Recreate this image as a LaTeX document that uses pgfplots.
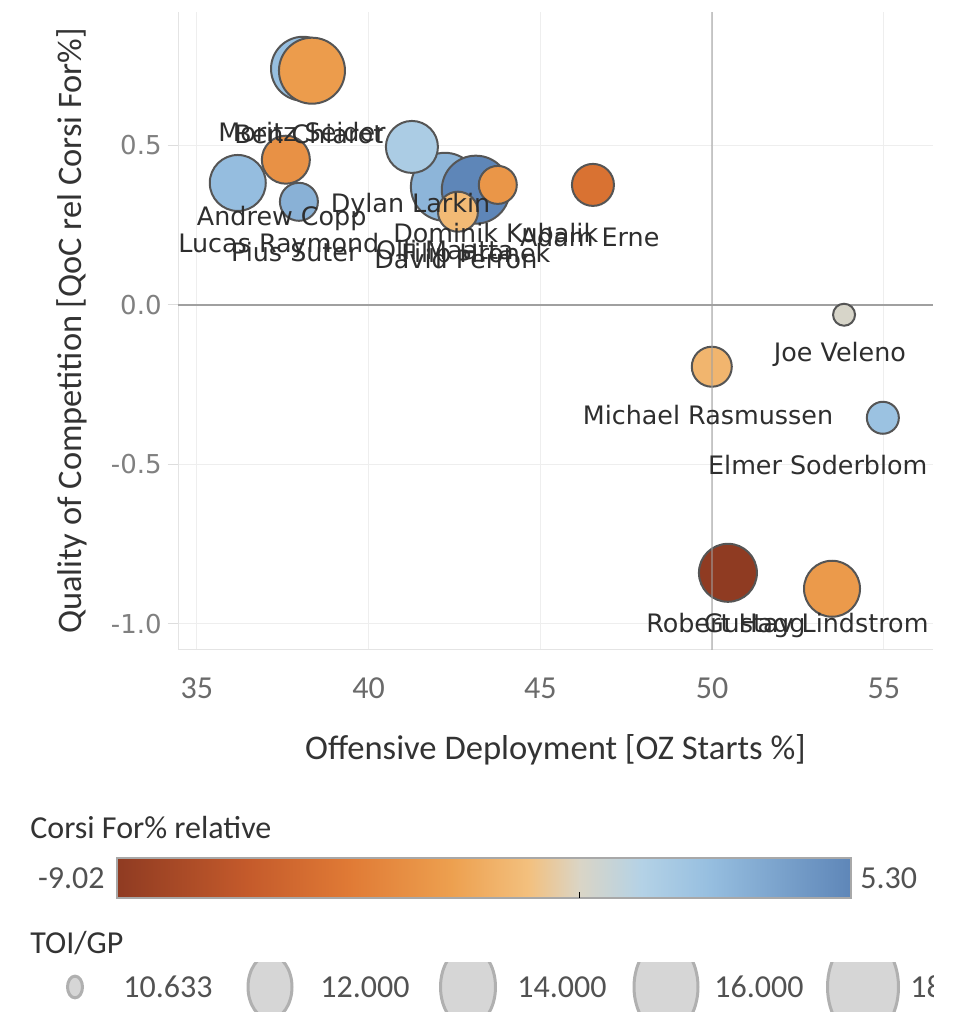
\documentclass[border=0pt]{standalone}
\usepackage{fontspec}
\setmainfont{Carlito}
\newfontfamily\labfont{DejaVu Sans}
\usepackage{pgfplots}
\usepackage{pgfplotstable}
\pgfplotsset{compat=1.18}

\definecolor{txtc}{HTML}{333333}
\definecolor{labc}{HTML}{2E2E2E}
\definecolor{ytickc}{HTML}{808080}
\definecolor{xtickc}{HTML}{6A6A6A}
\definecolor{gridc}{HTML}{EEEEEE}
\definecolor{edgec}{HTML}{E4E4E4}
\definecolor{tickc}{HTML}{DDDDDD}
\definecolor{refc}{HTML}{A0A0A0}
\definecolor{ptborder}{HTML}{555555}
\definecolor{lgfill}{HTML}{D6D6D6}
\definecolor{lgborder}{HTML}{B0B0B0}
\definecolor{cbborder}{HTML}{A8A8A8}
% colour-scale stops
\definecolor{cmA}{RGB}{143,59,34}
\definecolor{cmB}{RGB}{196,90,43}
\definecolor{cmC}{RGB}{224,122,53}
\definecolor{cmD}{RGB}{237,160,79}
\definecolor{cmE}{RGB}{243,192,126}
\definecolor{cmF}{RGB}{218,213,198}
\definecolor{cmG}{RGB}{180,210,230}
\definecolor{cmH}{RGB}{151,191,224}
\definecolor{cmI}{RGB}{94,134,184}

% positions = value + 9.02 (range -9.02 .. 5.30)
\pgfplotsset{colormap={orangeblue}{
  color(0)=(cmA) color(2.52)=(cmB) color(4.52)=(cmC) color(6.52)=(cmD)
  color(8.02)=(cmE) color(9.02)=(cmF) color(10.22)=(cmG) color(11.52)=(cmH)
  color(14.32)=(cmI)
}}

% x = OZ Starts %, y = QoC rel CF%, c = Corsi For% relative, r = circle radius (px)
\pgfplotstableread{
x      y       c      r
38.09  0.740   2.5    33
38.35  0.734  -2.7    34
36.19  0.382   2.6    29
37.59  0.455  -3.3    25
37.97  0.323   3.2    20
42.22  0.370   3.0    35
43.12  0.361   5.3    35
41.26  0.495   1.6    27
42.60  0.292  -1.3    21
43.76  0.376  -3.0    20
46.53  0.376  -5.0    22
53.84 -0.031   0.1    12
49.99 -0.194  -1.5    21
54.97 -0.354   2.3    17
50.46 -0.840  -9.02   30
53.49 -0.890  -2.8    29
}\players

% legend: x position (pt), horizontal radius (pt)
\pgfplotstableread{
x      y     r
37.5   18.5  4.5
135    18.5  11.75
234    18.5  14.5
333    18.5  16.75
431.5  18.5  18.5
}\sizetab

\tikzset{
  lab/.style={font=\labfont\fontsize{12.7}{14}\selectfont, text=labc, inner sep=0pt,
              text height=9.26pt, text depth=0pt, anchor=center},
  ttl/.style={font=\fontsize{16}{18}\selectfont, text=txtc, inner sep=0pt,
              text height=10.3pt, text depth=0pt},
  num/.style={font=\fontsize{16}{18}\selectfont, text=black!68, inner sep=0pt,
              text height=10.1pt, text depth=0pt},
}

\begin{document}
\begin{tikzpicture}
\useasboundingbox (0,0) rectangle (481.5pt,512pt);

\begin{axis}[
  at={(89pt,187pt)}, anchor=south west,
  scale only axis, width=377.5pt, height=319pt,
  xmin=34.45, xmax=56.43, ymin=-1.082, ymax=0.918,
  xtick={35,40,45,50,55}, xticklabels={35,40,45,50,55},
  ytick={-1,-0.5,0,0.5}, yticklabels={-1.0,-0.5,0.0,0.5},
  grid=major, grid style={draw=gridc, line width=0.5pt},
  axis x line*=bottom, axis y line*=left,
  axis line style={draw=edgec, line width=0.5pt, -},
  tick align=outside, major tick length=5pt,
  xtick style={draw=none}, ytick style={draw=tickc, line width=0.5pt},
  xticklabel style={font=\fontsize{16}{18}\selectfont, text=xtickc, anchor=center,
                    inner sep=0pt, text height=10.1pt, text depth=0pt, yshift=-14pt},
  yticklabel style={font=\labfont\fontsize{13}{15}\selectfont, text=ytickc, anchor=east,
                    inner sep=0pt, text height=9.5pt, text depth=0pt, xshift=-3pt},
  xlabel={Offensive Deployment [OZ Starts \%]},
  ylabel={Quality of Competition [QoC rel Corsi For\%]},
  xlabel style={font=\fontsize{17.3}{19}\selectfont, text=txtc, at={(axis description cs:0.5,-0.1567)}, anchor=center, inner sep=0pt},
  ylabel style={font=\fontsize{17.2}{19}\selectfont, text=txtc, at={(axis description cs:-0.1404,0.5)}, anchor=center, inner sep=0pt},
  colormap name=orangeblue, point meta min=-9.02, point meta max=5.30,
  clip mode=individual,
]
% zero line (under the points)
\addplot[refc, line width=0.8pt] coordinates {(34.45,0) (56.43,0)};

\addplot[scatter, only marks, mark=*,
  point meta=\thisrow{c},
  visualization depends on={0.5*\thisrow{r}-0.5 \as \rad},
  scatter/use mapped color={draw=ptborder, fill=mapped color},
  scatter/@pre marker code/.append style={/tikz/mark size=\rad},
  mark options={line width=1pt}]
  table[x=x, y=y] {\players};

% reference line at 50 %
\addplot[refc, line width=0.8pt, opacity=0.55] coordinates {(50,-1.082) (50,0.918)};

\node[lab] at (axis cs:38.06,0.542) {Moritz Seider};
\node[lab] at (axis cs:38.26,0.536) {Ben Chiarot};
\node[lab] at (axis cs:37.47,0.279) {Andrew Copp};
\node[lab, anchor=west] at (axis cs:34.45,0.194) {Lucas Raymond};
\node[lab] at (axis cs:37.85,0.166) {Pius Suter};
\node[lab] at (axis cs:41.22,0.320) {Dylan Larkin};
\node[lab] at (axis cs:43.70,0.226) {Dominik Kubalik};
\node[lab] at (axis cs:46.44,0.213) {Adam Erne};
\node[lab] at (axis cs:42.22,0.172) {Olli Maatta};
\node[lab] at (axis cs:43.12,0.163) {Filip Hronek};
\node[lab] at (axis cs:42.54,0.144) {David Perron};
\node[lab] at (axis cs:53.72,-0.150) {Joe Veleno};
\node[lab] at (axis cs:49.88,-0.345) {Michael Rasmussen};
\node[lab, anchor=east] at (axis cs:56.28,-0.502) {Elmer Soderblom};
\node[lab] at (axis cs:50.40,-0.997) {Robert Hagg};
\node[lab, anchor=east] at (axis cs:56.31,-0.997) {Gustav Lindstrom};
\end{axis}

% colour legend
\node[ttl, anchor=west] at (15pt,98pt) {Corsi For\% relative};
\shade[left color=cmA, right color=cmB] (58.5pt,63pt) rectangle (123.4pt,83pt);
\shade[left color=cmB, right color=cmC] (123.1pt,63pt) rectangle (174.6pt,83pt);
\shade[left color=cmC, right color=cmD] (174.35pt,63pt) rectangle (225.9pt,83pt);
\shade[left color=cmD, right color=cmE] (225.6pt,63pt) rectangle (264.3pt,83pt);
\shade[left color=cmE, right color=cmF] (264.05pt,63pt) rectangle (290pt,83pt);
\shade[left color=cmF, right color=cmG] (289.7pt,63pt) rectangle (320.7pt,83pt);
\shade[left color=cmG, right color=cmH] (320.45pt,63pt) rectangle (354pt,83pt);
\shade[left color=cmH, right color=cmI] (353.75pt,63pt) rectangle (425.5pt,83pt);
\draw[cbborder, line width=1pt] (58.5pt,63pt) rectangle (425.5pt,83pt);
\draw[black, line width=0.8pt] (289.7pt,63pt) -- (289.7pt,66pt);
\node[num, anchor=east] at (52.5pt,73pt) {-9.02};
\node[num, anchor=west] at (430pt,73pt) {5.30};

% size legend
\node[ttl, anchor=west] at (15pt,40.5pt) {TOI/GP};
\begin{axis}[
  at={(0pt,6pt)}, anchor=south west,
  scale only axis, width=466.5pt, height=24.5pt,
  xmin=0, xmax=466.5, ymin=6, ymax=30.5,
  hide axis, clip=true, clip marker paths=true,
]
\addplot[scatter, only marks, mark=*,
  point meta=\thisrow{r},
  visualization depends on={\thisrow{r}-0.75 \as \rr},
  scatter/use mapped color={draw=lgborder, fill=lgfill},
  scatter/@pre marker code/.append style={/tikz/mark size=\rr},
  mark options={line width=1.5pt, yscale=1.45}]
  table[x=x, y=y] {\sizetab};
\end{axis}
\node[num, anchor=west] at (61.5pt,18.5pt) {10.633};
\node[num, anchor=west] at (160pt,18.5pt) {12.000};
\node[num, anchor=west] at (258.5pt,18.5pt) {14.000};
\node[num, anchor=west] at (357pt,18.5pt) {16.000};
\begin{scope}
\clip (440pt,0pt) rectangle (466.5pt,40pt);
\node[num, anchor=west] at (455pt,18.5pt) {18.000};
\end{scope}
\end{tikzpicture}
\end{document}
